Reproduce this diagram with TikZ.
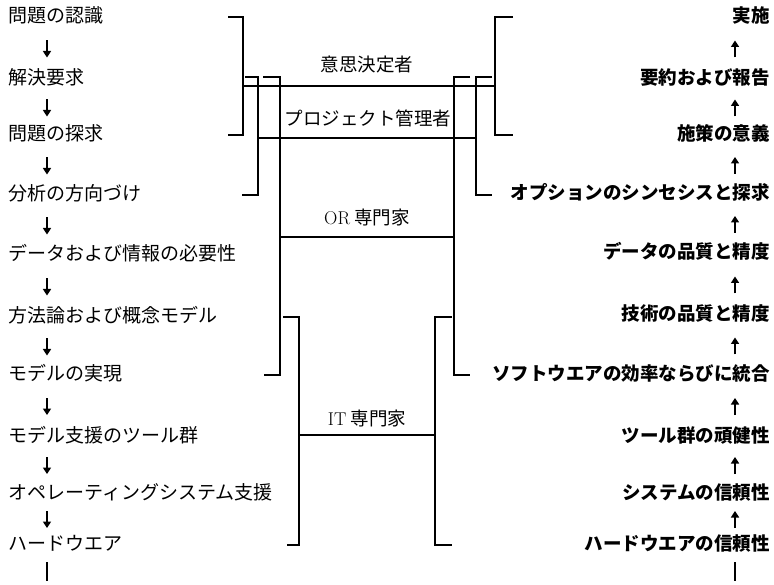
\documentclass[tikz,border=0pt]{standalone}
\usepackage{fontspec}
\newfontfamily\cjk{Noto Sans CJK JP}
\usetikzlibrary{arrows.meta,calc}
\begin{document}
\begin{tikzpicture}[x=1pt,y=-1pt,
  ltext/.style={anchor=west, inner sep=0pt, text height=14pt, text depth=4pt, font=\cjk\fontsize{19}{19}\selectfont},
  rtext/.style={anchor=east, inner sep=0pt, text height=14pt, text depth=4pt, font=\cjk\bfseries\fontsize{18.5}{18.5}\selectfont},
  lab/.style={inner sep=0pt, font=\cjk\fontsize{18.5}{18.5}\selectfont},
  brk/.style={line width=2.8pt, line join=miter},
  darr/.style={line width=2.4pt, -{Triangle[width=8pt,length=6.5pt]}},
  endbar/.style={line width=2.8pt, shorten <=8pt},
]
\useasboundingbox (0,0) rectangle (774,585);
\coordinate (AXL) at (47,0);
\coordinate (AXR) at (735,0);
% left column
\node[ltext] (L1) at (8,18) {問題の認識};
\node[ltext] (L2) at (8,80) {解決要求};
\node[ltext] (L3) at (8,136) {問題の探求};
\node[ltext] (L4) at (8,196) {分析の方向づけ};
\node[ltext] (L5) at (8,256) {データおよび情報の必要性};
\node[ltext] (L6) at (8,318) {方法論および概念モデル};
\node[ltext] (L7) at (8,376) {モデルの実現};
\node[ltext] (L8) at (8,437) {モデル支援のツール群};
\node[ltext] (L9) at (8,494) {オペレーティングシステム支援};
\node[ltext] (L10) at (8,545) {ハードウエア};
% right column
\node[rtext] (R1) at (770,18) {実施};
\node[rtext] (R2) at (770,80) {要約および報告};
\node[rtext] (R3) at (770,136) {施策の意義};
\node[rtext] (R4) at (770,195) {オプションのシンセシスと探求};
\node[rtext] (R5) at (770,254) {データの品質と精度};
\node[rtext] (R6) at (770,316) {技術の品質と精度};
\node[rtext] (R7) at (770,376) {ソフトウエアの効率ならびに統合};
\node[rtext] (R8) at (770,437) {ツール群の頑健性};
\node[rtext] (R9) at (770,494) {システムの信頼性};
\node[rtext] (R10) at (770,545) {ハードウエアの信頼性};
% arrows (fixed length, centred between consecutive texts)
\foreach \a/\b in {1/2,2/3,3/4,4/5,5/6,6/7,7/8,8/9,9/10}{
  \draw[darr] ($(L\a.south -| AXL)!0.5!(L\b.north -| AXL)+(0,-8.5)$) -- ($(L\a.south -| AXL)!0.5!(L\b.north -| AXL)+(0,8.5)$);
  \draw[darr] ($(R\a.south -| AXR)!0.5!(R\b.north -| AXR)+(0,8.5)$) -- ($(R\a.south -| AXR)!0.5!(R\b.north -| AXR)+(0,-8.5)$);
}
\coordinate (LB) at (47,581);
\coordinate (RB) at (735,581);
\draw[endbar] (L10.south -| LB) -- (LB);
\draw[endbar] (R10.south -| RB) -- (RB);
% group labels
\node[lab] (DM) at (367,65) {意思決定者};
\node[lab] (PM) at (368,118) {プロジェクト管理者};
\node[lab] (OR) at (367,217) {{\rmfamily OR} 専門家};
\node[lab] (IT) at (367,418) {{\rmfamily IT} 専門家};
% decision maker bracket
\draw[brk] (228,17) -| (243,135) -- (228,135);
\draw[brk] (513,17) -| (495,135) -- (513,135);
\draw[brk] (243,86) -- (495,86);
% project manager bracket
\draw[brk] (245,77) -| (258,195) -- (242,195);
\draw[brk] (492,77) -| (476,195) -- (492,195);
\draw[brk] (258,138) -- (476,138);
% OR bracket
\draw[brk] (263,77) -| (280,375) -- (264,375);
\draw[brk] (470,77) -| (454,375) -- (470,375);
\draw[brk] (280,237) -- (454,237);
% IT bracket
\draw[brk] (283,317) -| (299,545) -- (287,545);
\draw[brk] (452,317) -| (435,545) -- (452,545);
\draw[brk] (299,435) -- (435,435);
\end{tikzpicture}
\end{document}
